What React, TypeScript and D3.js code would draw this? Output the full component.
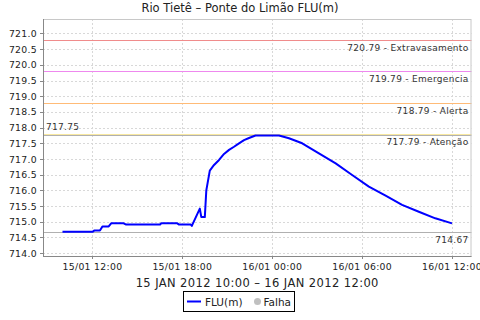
import React from "react";
import * as d3 from "d3";

const TITLE = "Rio Tietê – Ponte do Limão FLU(m)";
const SUBTITLE = "15 JAN 2012 10:00 – 16 JAN 2012 12:00";

const times: string[] = [
  "2012-01-15T10:00", "2012-01-15T12:00", "2012-01-15T12:07", "2012-01-15T12:30",
  "2012-01-15T12:40", "2012-01-15T13:05", "2012-01-15T13:15", "2012-01-15T14:05",
  "2012-01-15T14:15", "2012-01-15T16:30", "2012-01-15T16:36", "2012-01-15T17:40",
  "2012-01-15T17:47", "2012-01-15T18:34", "2012-01-15T18:38", "2012-01-15T19:10",
  "2012-01-15T19:16", "2012-01-15T19:30", "2012-01-15T19:36", "2012-01-15T19:50",
  "2012-01-15T20:07", "2012-01-15T20:27", "2012-01-15T20:47", "2012-01-15T21:07",
  "2012-01-15T21:27", "2012-01-15T21:47", "2012-01-15T22:07", "2012-01-15T22:27",
  "2012-01-15T22:53", "2012-01-16T00:27", "2012-01-16T01:07", "2012-01-16T02:00",
  "2012-01-16T03:07", "2012-01-16T04:14", "2012-01-16T05:20", "2012-01-16T06:27",
  "2012-01-16T07:34", "2012-01-16T08:40", "2012-01-16T09:47", "2012-01-16T10:53",
  "2012-01-16T12:00",
];
const levels: number[] = [
  714.68, 714.68, 714.72, 714.72,
  714.85, 714.85, 714.95, 714.95,
  714.91, 714.91, 714.95, 714.95,
  714.91, 714.91, 714.87, 715.42,
  715.15, 715.15, 716.0, 716.63,
  716.81, 716.97, 717.16, 717.29,
  717.39, 717.5, 717.6, 717.67,
  717.75, 717.75, 717.66, 717.5,
  717.18, 716.86, 716.49, 716.12,
  715.83, 715.54, 715.32, 715.11,
  714.95,
];

const markerValues: number[] = [720.79, 719.79, 718.79, 717.79];
const markerNames: string[] = ["Extravasamento", "Emergencia", "Alerta", "Atenção"];
const markerColors: string[] = ["#f08c8c", "#ee88ee", "#ffbb77", "#f8e8a0"];
const maxValue = 717.75;
const minValue = 714.67;

const yTicks: number[] = [714.0, 714.5, 715.0, 715.5, 716.0, 716.5, 717.0, 717.5, 718.0, 718.5, 719.0, 719.5, 720.0, 720.5, 721.0];
const xTicks: string[] = ["2012-01-15T12:00", "2012-01-15T18:00", "2012-01-16T00:00", "2012-01-16T06:00", "2012-01-16T12:00"];
const xDomain: string[] = ["2012-01-15T08:42", "2012-01-16T13:18"];
const yDomain: number[] = [713.91, 721.46];
const legendItems: string[] = ["FLU(m)", "Falha"];

const parse = (s: string) => new Date(s);
const FONT = "DejaVu Sans";

export default function App() {
  const L = 43, R = 471.5, T = 19, B = 256;
  const x = d3.scaleTime().domain(xDomain.map(parse)).range([L, R]);
  const y = d3.scaleLinear().domain(yDomain).range([B, T]);
  const fmt = d3.timeFormat("%d/%m %H:%M");
  const data = times.map((t, i) => ({ t: parse(t), v: levels[i] }));
  const line = d3.line<{ t: Date; v: number }>().x((d) => x(d.t)).y((d) => y(d.v));

  return (
    <svg width={480} height={320} style={{ position: "absolute", left: 0, top: 0, background: "#fff" }} fontFamily={FONT}>
      <rect x={0} y={0} width={480} height={320} fill="#fff" />
      <text x={240} y={12} textAnchor="middle" fontSize={11.5} fill="#222">{TITLE}</text>
      {/* grid */}
      {yTicks.map((v) => (
        <line key={"gy" + v} x1={L} x2={R} y1={Math.round(y(v)) + 0.5} y2={Math.round(y(v)) + 0.5} stroke="#d8d8d8" strokeDasharray="2,2" />
      ))}
      {xTicks.map((t) => (
        <line key={"gx" + t} x1={Math.round(x(parse(t))) + 0.5} x2={Math.round(x(parse(t))) + 0.5} y1={T} y2={B} stroke="#d8d8d8" strokeDasharray="2,2" />
      ))}
      {/* markers */}
      {markerValues.map((v, i) => (
        <g key={"m" + v}>
          <line x1={L} x2={R} y1={Math.round(y(v)) + 0.5} y2={Math.round(y(v)) + 0.5} stroke={markerColors[i]} strokeWidth={1} />
          <text x={R - 3} y={y(v) + 11} textAnchor="end" fontSize={9} fill="#333" letterSpacing={0.3}>
            {v.toFixed(2)} - {markerNames[i]}
          </text>
        </g>
      ))}
      <line x1={L} x2={R} y1={Math.round(y(maxValue)) + 0.5} y2={Math.round(y(maxValue)) + 0.5} stroke="#b0b0b0" />
      <text x={L + 3} y={y(maxValue) - 5} fontSize={9} fill="#333" letterSpacing={0.3}>{maxValue.toFixed(2)}</text>
      <line x1={L} x2={R} y1={Math.round(y(minValue)) + 0.5} y2={Math.round(y(minValue)) + 0.5} stroke="#b0b0b0" />
      <text x={R - 3} y={y(minValue) + 11} textAnchor="end" fontSize={9} fill="#333" letterSpacing={0.3}>{minValue.toFixed(2)}</text>
      {/* border */}
      <rect x={L + 0.5} y={T + 0.5} width={R - L - 1} height={B - T} fill="none" stroke="#c8c8c8" />
      <line x1={L + 0.5} x2={L + 0.5} y1={T} y2={B + 1} stroke="#888" />
      <line x1={L} x2={R} y1={B + 0.5} y2={B + 0.5} stroke="#888" />
      {/* data */}
      <path d={line(data) || ""} fill="none" stroke="#0000ff" strokeWidth={2} strokeLinejoin="round" />
      {/* y axis */}
      {yTicks.map((v) => (
        <g key={"ty" + v}>
          <line x1={L - 3} x2={L} y1={Math.round(y(v)) + 0.5} y2={Math.round(y(v)) + 0.5} stroke="#888" />
          <text x={L - 6} y={y(v) + 3.5} textAnchor="end" fontSize={9.3} fill="#222" letterSpacing={0.3}>{v.toFixed(1)}</text>
        </g>
      ))}
      {/* x axis */}
      {xTicks.map((t) => (
        <g key={"tx" + t}>
          <line x1={Math.round(x(parse(t))) + 0.5} x2={Math.round(x(parse(t))) + 0.5} y1={B} y2={B + 3} stroke="#888" />
          <text x={x(parse(t))} y={269.5} textAnchor="middle" fontSize={9.3} fill="#222" letterSpacing={0.3}>{fmt(parse(t))}</text>
        </g>
      ))}
      <text x={(L + R) / 2} y={286.5} textAnchor="middle" fontSize={11.5} fill="#222" letterSpacing={0.4}>{SUBTITLE}</text>
      {/* legend */}
      <rect x={183.5} y={291.5} width={111} height={20} fill="#fff" stroke="#000" />
      <line x1={187} x2={201} y1={301.5} y2={301.5} stroke="#0000ff" strokeWidth={2} />
      <text x={205} y={305.5} fontSize={10.5} fill="#222">{legendItems[0]}</text>
      <circle cx={257.5} cy={301.5} r={3.5} fill="#c0c0c0" />
      <text x={263.5} y={305.5} fontSize={10.5} fill="#222">{legendItems[1]}</text>
    </svg>
  );
}
